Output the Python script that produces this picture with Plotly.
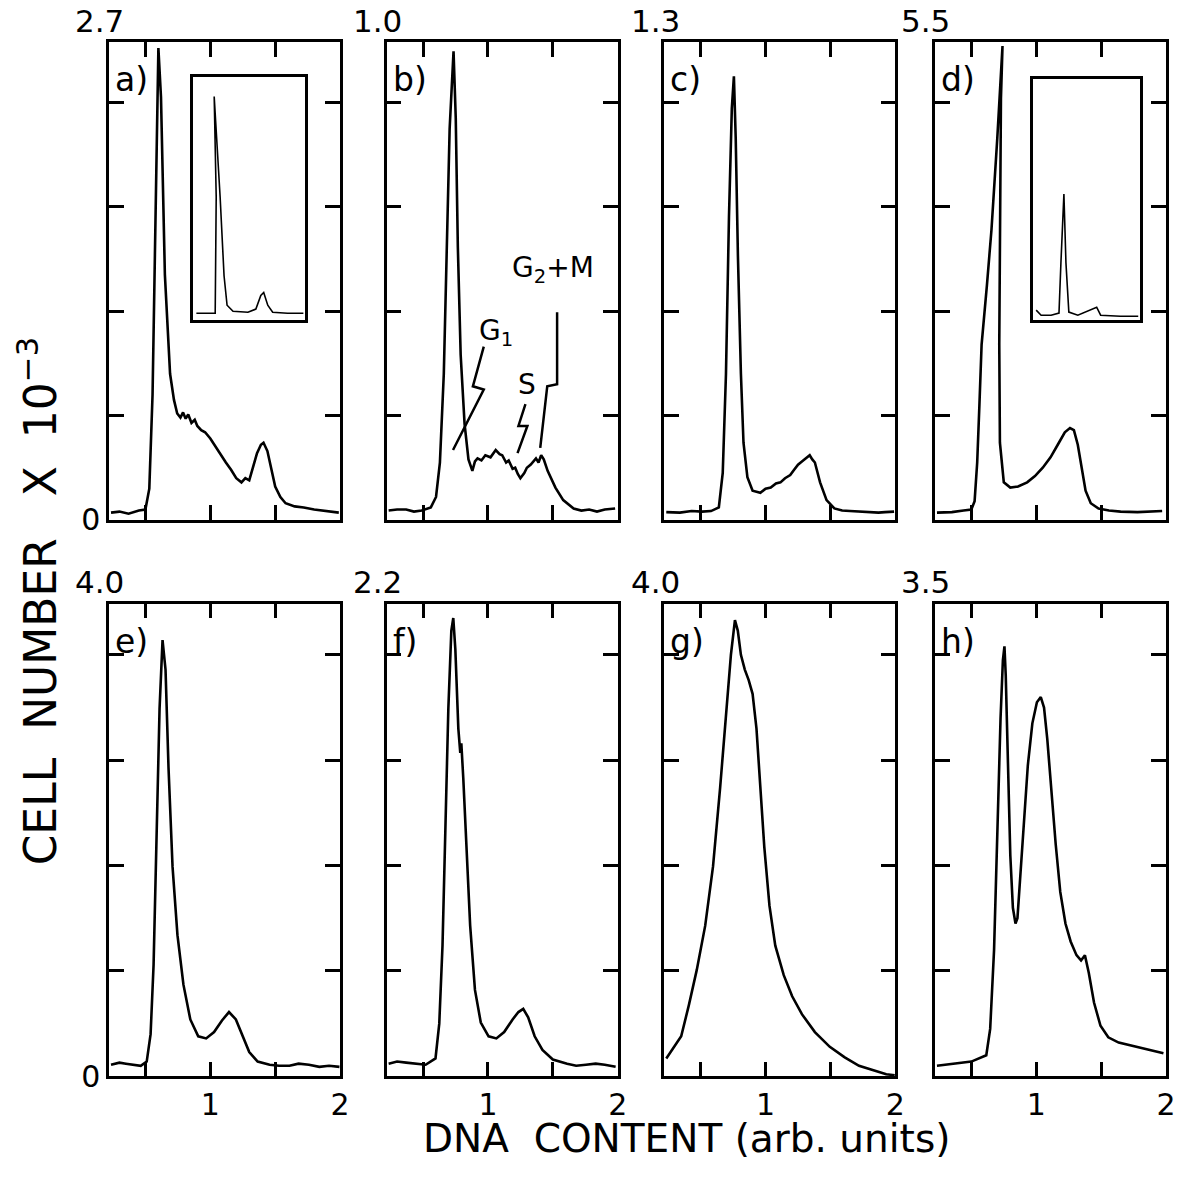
import plotly.graph_objects as go

# ---------------- data (DNA content vs cell number x 10^-3, tick units) ----------------
a_x = [0.235, 0.30, 0.37, 0.45, 0.50, 0.53, 0.555, 0.585, 0.60, 0.62, 0.65, 0.69, 0.72, 0.745, 0.77, 0.79,
       0.81, 0.83, 0.855, 0.88, 0.90, 0.93, 0.96, 1.00, 1.04, 1.08, 1.12, 1.16, 1.20, 1.24, 1.27, 1.30,
       1.33, 1.36, 1.39, 1.41, 1.44, 1.47, 1.50, 1.54, 1.58, 1.65, 1.72, 1.80, 1.88, 1.95, 1.99]
a_y = [0.07, 0.08, 0.06, 0.09, 0.10, 0.30, 1.20, 3.50, 4.52, 4.05, 2.35, 1.40, 1.15, 1.02, 0.98, 1.03,
       0.97, 1.01, 0.93, 0.96, 0.90, 0.86, 0.84, 0.78, 0.70, 0.62, 0.55, 0.48, 0.40, 0.36, 0.40, 0.38,
       0.50, 0.64, 0.72, 0.74, 0.66, 0.48, 0.32, 0.22, 0.16, 0.13, 0.12, 0.10, 0.09, 0.08, 0.07]

b_x = [0.235, 0.30, 0.37, 0.43, 0.49, 0.56, 0.60, 0.63, 0.66, 0.685, 0.705, 0.735, 0.752, 0.768, 0.79, 0.82,
       0.85, 0.88, 0.90, 0.92, 0.95, 0.98, 1.02, 1.06, 1.09, 1.11, 1.14, 1.16, 1.19, 1.21, 1.23, 1.25,
       1.28, 1.30, 1.33, 1.37, 1.39, 1.41, 1.43, 1.46, 1.52, 1.58, 1.66, 1.72, 1.78, 1.84, 1.90, 1.98]
b_y = [0.09, 0.10, 0.10, 0.08, 0.09, 0.12, 0.22, 0.55, 1.40, 2.62, 3.75, 4.49, 3.85, 2.62, 1.58, 0.92,
       0.58, 0.47, 0.56, 0.59, 0.57, 0.62, 0.60, 0.67, 0.63, 0.62, 0.55, 0.57, 0.49, 0.50, 0.44, 0.40,
       0.45, 0.50, 0.53, 0.59, 0.55, 0.62, 0.58, 0.47, 0.31, 0.19, 0.11, 0.09, 0.10, 0.08, 0.10, 0.11]

c_x = [0.235, 0.34, 0.43, 0.51, 0.58, 0.64, 0.67, 0.695, 0.718, 0.74, 0.756, 0.77, 0.787, 0.81, 0.83,
       0.86, 0.90, 0.96, 1.00, 1.04, 1.08, 1.115, 1.15, 1.19, 1.22, 1.25, 1.28, 1.31, 1.34, 1.36, 1.38,
       1.42, 1.47, 1.53, 1.59, 1.65, 1.72, 1.80, 1.87, 1.92, 1.99]
c_y = [0.075, 0.07, 0.085, 0.08, 0.085, 0.12, 0.45, 1.40, 2.90, 3.94, 4.25, 3.66, 2.53, 1.40, 0.74,
       0.41, 0.28, 0.26, 0.30, 0.31, 0.35, 0.36, 0.40, 0.43, 0.48, 0.53, 0.56, 0.59, 0.62, 0.58, 0.55,
       0.36, 0.19, 0.11, 0.09, 0.085, 0.08, 0.075, 0.07, 0.075, 0.08]

d_x = [0.235, 0.35, 0.44, 0.50, 0.525, 0.545, 0.562, 0.579, 0.62, 0.655, 0.70, 0.74, 0.728, 0.72, 0.715,
       0.72, 0.75, 0.80, 0.86, 0.93, 0.99, 1.05, 1.11, 1.17, 1.22, 1.26, 1.29, 1.32, 1.35, 1.38, 1.42,
       1.48, 1.56, 1.65, 1.78, 1.90, 1.97]
d_y = [0.07, 0.075, 0.09, 0.10, 0.18, 0.55, 1.10, 1.68, 2.25, 2.78, 3.66, 4.54, 4.04, 2.78, 1.68,
       0.74, 0.36, 0.31, 0.32, 0.36, 0.42, 0.50, 0.60, 0.73, 0.84, 0.88, 0.86, 0.72, 0.48, 0.28, 0.16,
       0.11, 0.09, 0.08, 0.075, 0.08, 0.085]

e_x = [0.235, 0.30, 0.35, 0.41, 0.464, 0.51, 0.54, 0.563, 0.586, 0.609, 0.632, 0.655, 0.678, 0.709,
       0.747, 0.793, 0.846, 0.907, 0.968, 1.029, 1.09, 1.144, 1.197, 1.25, 1.30, 1.365, 1.457, 1.53,
       1.61, 1.68, 1.76, 1.84, 1.915, 1.995]
e_y = [0.11, 0.13, 0.12, 0.11, 0.10, 0.14, 0.40, 1.06, 2.18, 3.49, 4.14, 3.86, 2.93, 1.99,
       1.34, 0.87, 0.54, 0.38, 0.36, 0.42, 0.53, 0.61, 0.54, 0.38, 0.23, 0.14, 0.11, 0.10,
       0.10, 0.12, 0.11, 0.09, 0.10, 0.09]

f_x = [0.235, 0.30, 0.37, 0.44, 0.52, 0.596, 0.625, 0.65, 0.672, 0.695, 0.718, 0.733, 0.749, 0.772,
       0.787, 0.795, 0.81, 0.833, 0.863, 0.90, 0.945, 1.005, 1.065, 1.125, 1.19, 1.235, 1.272, 1.31,
       1.36, 1.42, 1.50, 1.61, 1.68, 1.755, 1.83, 1.90, 1.984]
f_y = [0.12, 0.14, 0.13, 0.12, 0.11, 0.17, 0.50, 1.24, 2.36, 3.49, 4.23, 4.35, 4.05, 3.30,
       3.07, 3.16, 2.83, 2.18, 1.43, 0.82, 0.51, 0.38, 0.36, 0.42, 0.54, 0.61, 0.64, 0.56,
       0.38, 0.25, 0.16, 0.12, 0.10, 0.11, 0.12, 0.11, 0.09]

g_x = [0.235, 0.35, 0.41, 0.47, 0.535, 0.595, 0.65, 0.695, 0.733, 0.764, 0.786, 0.81, 0.84, 0.87,
       0.90, 0.93, 0.96, 0.99, 1.03, 1.075, 1.14, 1.205, 1.28, 1.38, 1.495, 1.61, 1.72, 1.83,
       1.93, 1.995]
g_y = [0.17, 0.38, 0.68, 1.01, 1.43, 1.99, 2.74, 3.39, 4.00, 4.33, 4.23, 4.00, 3.86, 3.76,
       3.63, 3.30, 2.74, 2.18, 1.62, 1.24, 0.96, 0.76, 0.59, 0.42, 0.28, 0.18, 0.10, 0.06,
       0.02, 0.01]

h_x = [0.235, 0.35, 0.50, 0.615, 0.645, 0.675, 0.70, 0.725, 0.743, 0.755, 0.765, 0.78, 0.80, 0.82,
       0.84, 0.855, 0.875, 0.905, 0.935, 0.97, 1.005, 1.035, 1.06, 1.085, 1.115, 1.15, 1.185, 1.225,
       1.265, 1.31, 1.345, 1.375, 1.405, 1.445, 1.495, 1.555, 1.635, 1.735, 1.83, 1.91, 1.98]
h_y = [0.10, 0.12, 0.14, 0.20, 0.45, 1.20, 2.40, 3.40, 3.95, 4.08, 3.80, 3.00, 2.10, 1.60,
       1.45, 1.50, 1.85, 2.45, 2.95, 3.35, 3.55, 3.60, 3.50, 3.20, 2.70, 2.20, 1.75, 1.45, 1.28,
       1.15, 1.10, 1.15, 0.98, 0.70, 0.48, 0.37, 0.32, 0.29, 0.26, 0.24, 0.22]

# insets (fractions of inset box)
ina_x = [0.027, 0.133, 0.195, 0.204, 0.186, 0.239, 0.274, 0.301, 0.354, 0.487, 0.558, 0.602, 0.628,
         0.664, 0.708, 0.841, 0.982]
ina_y = [0.028, 0.028, 0.028, 0.506, 0.919, 0.506, 0.182, 0.061, 0.036, 0.032, 0.045, 0.101, 0.113,
         0.061, 0.032, 0.028, 0.028]
ind_x = [0.028, 0.074, 0.167, 0.241, 0.259, 0.287, 0.306, 0.333, 0.417, 0.537, 0.593, 0.63, 0.815, 0.981]
ind_y = [0.041, 0.020, 0.020, 0.029, 0.237, 0.522, 0.237, 0.033, 0.020, 0.041, 0.053, 0.020, 0.016, 0.016]

panel_letters = ["a)", "b)", "c)", "d)", "e)", "f)", "g)", "h)"]
scale_labels = ["2.7", "1.0", "1.3", "5.5", "4.0", "2.2", "4.0", "3.5"]
series_x = [a_x, b_x, c_x, d_x, e_x, f_x, g_x, h_x]
series_y = [a_y, b_y, c_y, d_y, e_y, f_y, g_y, h_y]

x_tickvals = [0.5, 1.0, 1.5, 2.0]
x_ticktext = ["", "1", "", "2"]
y_tickvals = [0, 1, 2, 3, 4]
y_ticktext = ["0", "", "", "", ""]

# phase annotations in panel b (data coords)
g1_bolt_x = [0.968, 0.884, 0.968, 0.731]
g1_bolt_y = [1.66, 1.28, 1.25, 0.67]
s_bolt_x = [1.289, 1.235, 1.304, 1.228]
s_bolt_y = [1.11, 0.90, 0.90, 0.64]
g2_brk_x = [1.533, 1.533, 1.457, 1.403]
g2_brk_y = [1.99, 1.30, 1.28, 0.69]

# ---------------- layout geometry (pixels) ----------------
W, H = 1181, 1180
lefts = [110, 390, 670, 943]
PW = 233
rows = [(43, 528), (613, 1093)]
yranges = [4.575, 4.486]
FONT = "DejaVu Sans"


def px(v):
    return v / W


def py(v):
    return 1 - v / H


fig = go.Figure()
layout = dict(width=W, height=H, margin=dict(l=0, r=0, t=0, b=0),
              paper_bgcolor="white", plot_bgcolor="rgba(0,0,0,0)",
              showlegend=False, annotations=[])

for i in range(8):
    r, c = divmod(i, 4)
    n = i + 1
    xs = "" if n == 1 else str(n)
    top, bot = rows[r]
    L = lefts[c]
    layout["xaxis" + xs] = dict(
        domain=[px(L), px(L + PW)], anchor="y" + xs, range=[0.22, 2.0],
        showline=True, mirror="ticks", linecolor="black", linewidth=2.5,
        ticks="inside", ticklen=15, tickwidth=2.5, tickcolor="black",
        tickvals=x_tickvals, ticktext=x_ticktext, showticklabels=(r == 1),
        tickfont=dict(family=FONT, size=30, color="black"),
        showgrid=False, zeroline=False, fixedrange=True)
    layout["yaxis" + xs] = dict(
        domain=[py(bot), py(top)], anchor="x" + xs, range=[0, yranges[r]],
        showline=True, mirror="ticks", linecolor="black", linewidth=2.5,
        ticks="inside", ticklen=15, tickwidth=2.5, tickcolor="black",
        tickvals=y_tickvals, ticktext=y_ticktext, showticklabels=(c == 0),
        tickfont=dict(family=FONT, size=30, color="black"),
        showgrid=False, zeroline=False, fixedrange=True)
    fig.add_trace(go.Scatter(x=series_x[i], y=series_y[i], mode="lines",
                             line=dict(color="black", width=2.6),
                             xaxis="x" + xs, yaxis="y" + xs, hoverinfo="skip"))
    layout["annotations"].append(dict(
        text=scale_labels[i], xref="paper", yref="paper",
        x=px(L - 36), y=py(top - 22), xanchor="left", yanchor="middle",
        showarrow=False, font=dict(family=FONT, size=31, color="black")))
    layout["annotations"].append(dict(
        text=panel_letters[i], xref="paper", yref="paper",
        x=px(L + 4), y=py(top + 38), xanchor="left", yanchor="middle",
        showarrow=False, font=dict(family=FONT, size=33, color="black")))

# insets
insets = [(9, (195, 308, 78, 325), ina_x, ina_y), (10, (1042, 1150, 80, 325), ind_x, ind_y)]
for n, (x0, x1, y0, y1), ix, iy in insets:
    s = str(n)
    layout["xaxis" + s] = dict(domain=[px(x0), px(x1)], anchor="y" + s, range=[0, 1],
                               showline=True, mirror=True, linecolor="black", linewidth=2.5,
                               showticklabels=False, ticks="", showgrid=False, zeroline=False,
                               fixedrange=True)
    layout["yaxis" + s] = dict(domain=[py(y1), py(y0)], anchor="x" + s, range=[0, 1],
                               showline=True, mirror=True, linecolor="black", linewidth=2.5,
                               showticklabels=False, ticks="", showgrid=False, zeroline=False,
                               fixedrange=True)
    fig.add_trace(go.Scatter(x=ix, y=iy, mode="lines", line=dict(color="black", width=1.6),
                             xaxis="x" + s, yaxis="y" + s, hoverinfo="skip"))

# phase markers in panel b
for bx, by in [(g1_bolt_x, g1_bolt_y), (s_bolt_x, s_bolt_y), (g2_brk_x, g2_brk_y)]:
    fig.add_trace(go.Scatter(x=bx, y=by, mode="lines", line=dict(color="black", width=2.5),
                             xaxis="x2", yaxis="y2", hoverinfo="skip"))

for txt, ax, ay in [("G<sub>1</sub>", 1.06, 1.80), ("S", 1.30, 1.30), ("G<sub>2</sub>+M", 1.50, 2.40)]:
    layout["annotations"].append(dict(text=txt, xref="x2", yref="y2", x=ax, y=ay,
                                      xanchor="center", yanchor="middle",
                                      showarrow=False, font=dict(family=FONT, size=28, color="black")))

# axis titles
layout["annotations"].append(dict(text="DNA\u00a0\u00a0CONTENT\u00a0(arb.\u00a0units)", xref="paper", yref="paper",
                                  x=px(692), y=py(1156), xanchor="center", yanchor="middle",
                                  showarrow=False, font=dict(family=FONT, size=39, color="black")))
layout["annotations"].append(dict(text="CELL\u00a0\u00a0NUMBER\u00a0\u00a0\u00a0X\u00a0\u00a010<sup>\u22123</sup>",
                                  xref="paper", yref="paper", textangle=-90,
                                  x=px(38), y=py(610), xanchor="center", yanchor="middle",
                                  showarrow=False, font=dict(family=FONT, size=44, color="black")))

fig.update_layout(**layout)
fig.write_html("out.html", config={"displayModeBar": False},
               post_script="document.body.style.margin='0px';")
